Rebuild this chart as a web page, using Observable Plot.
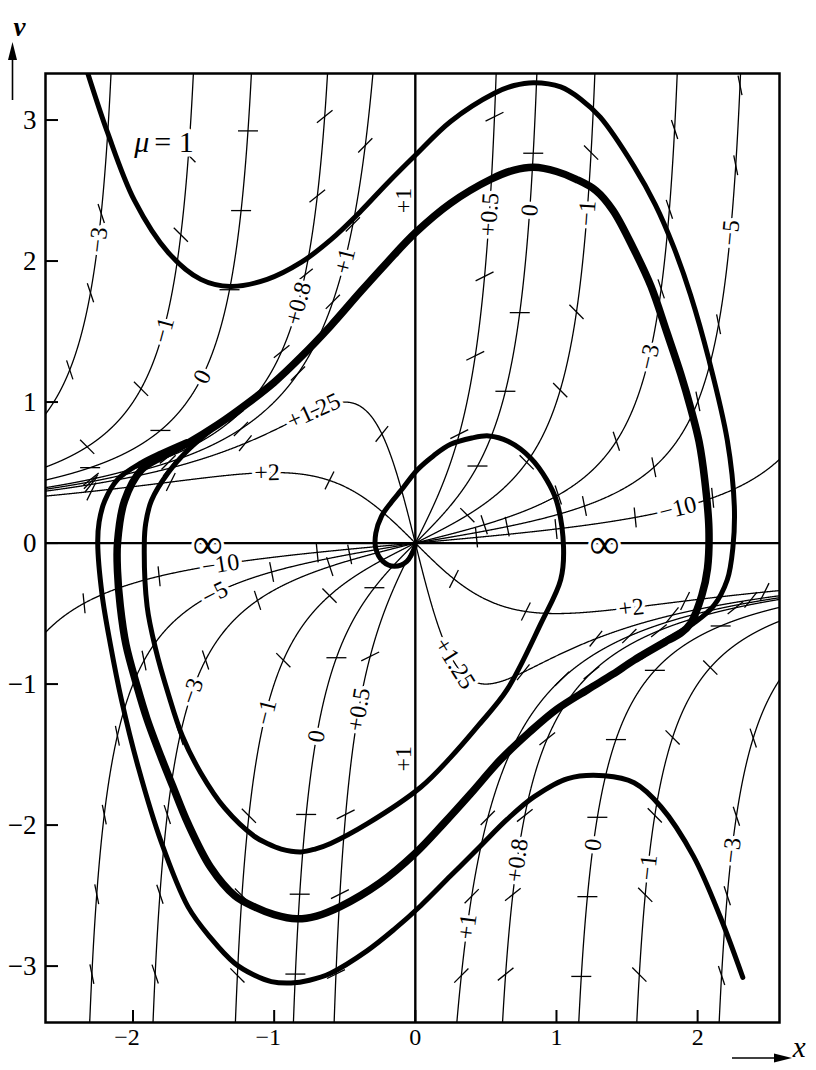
<!DOCTYPE html>
<html>
<head>
<meta charset="utf-8">
<script src="https://cdn.jsdelivr.net/npm/d3@7"></script>
<script src="https://cdn.jsdelivr.net/npm/@observablehq/plot@0.6"></script>
<style>
  html, body { margin: 0; padding: 0; background: #fff; }
  #chart { width: 816px; height: 1070px; }
  #chart svg text { font-family: "Liberation Serif", "Times New Roman", "DejaVu Serif", serif; }
</style>
</head>
<body>
<div id="chart"></div>
<script>
// Phase plane of the van der Pol equation x'' - μ(1 - x²)x' + x = 0, v = x'.
// Thin curves: isoclines dv/dx = s, crossed by short marks of slope s.
// Heavy curves: the limit cycle and three trajectories approaching it.
const mu = 1;

// isocline slopes
const midSlopes   = [-10, -5, -3, -1, 0, 0.5];  // branches through the origin
const outerSlopes = [-3, -1, 0, 0.8, 1];        // branches beyond the asymptotes
const wholeSlopes = [1.25, 2];                  // slopes above μ: a single branch

// isocline labels: [text, slope, where, value]
//   "x": value is x on the curve; "mid"/"outer": value is v on that branch;
//   "axis": beside the axis x = 0 at height v; "inf": on v = 0 at x
const isoLabels = [
  ["−3", -3, "outer", 2.15], ["−1", -1, "outer", 1.51], ["0", 0, "outer", 1.18],
  ["+0.8", 0.8, "outer", 1.70], ["+1", 1, "outer", 2.00], ["+1", 1, "axis", 2.43],
  ["+1.25", 1.25, "x", -0.72], ["+2", 2, "x", -1.05], ["∞", Infinity, "inf", -1.47],
  ["−10", -10, "x", -1.38], ["−5", -5, "x", -1.42], ["−3", -3, "x", -1.58],
  ["−1", -1, "mid", -1.20], ["0", 0, "mid", -1.37], ["+0.5", 0.5, "mid", -1.18],
  ["+1", 1, "axis", -1.53], ["+1.25", 1.25, "x", 0.28], ["+2", 2, "x", 1.53],
  ["∞", Infinity, "inf", 1.34], ["−10", -10, "x", 1.86], ["−3", -3, "mid", 1.32],
  ["−5", -5, "mid", 2.20], ["+0.5", 0.5, "mid", 2.33], ["0", 0, "mid", 2.36],
  ["−1", -1, "mid", 2.34], ["+1", 1, "outer", -2.72], ["+0.8", 0.8, "outer", -2.25],
  ["0", 0, "outer", -2.14], ["−1", -1, "outer", -2.30], ["−3", -3, "outer", -2.18]
];

// limit cycle (closed)
const limitX = [-2.11, -2.06, -1.94, -1.80, -1.61, -1.40, -1.19, -1.00, -0.81, -0.60, -0.39, -0.20, 0.00, 0.25, 0.535, 0.70, 0.84, 1.00, 1.14, 1.28, 1.40, 1.55, 1.67, 1.78, 1.88, 1.95, 2.01, 2.05, 2.08, 2.07, 2.03, 1.95, 1.88, 1.79, 1.55, 1.40, 1.22, 1.00, 0.81, 0.60, 0.39, 0.20, 0.00, -0.25, -0.535, -0.70, -0.84, -1.00, -1.14, -1.28, -1.45, -1.61, -1.72, -1.80, -1.90, -1.97, -2.05, -2.09, -2.11];
const limitV = [0.00, 0.30, 0.52, 0.61, 0.71, 0.84, 0.99, 1.14, 1.32, 1.54, 1.78, 1.99, 2.20, 2.41, 2.58, 2.645, 2.665, 2.635, 2.58, 2.50, 2.36, 2.08, 1.82, 1.50, 1.20, 0.96, 0.72, 0.45, 0.10, -0.18, -0.37, -0.57, -0.64, -0.69, -0.83, -0.93, -1.04, -1.18, -1.34, -1.54, -1.78, -1.99, -2.20, -2.41, -2.58, -2.645, -2.665, -2.635, -2.58, -2.50, -2.30, -1.99, -1.72, -1.52, -1.25, -1.02, -0.72, -0.45, -0.20];

// trajectory spiralling out of the origin
const innerX = [0.00, -0.06, -0.15, -0.23, -0.28, -0.28, -0.24, -0.17, -0.10, 0.015, 0.13, 0.25, 0.40, 0.52, 0.66, 0.82, 0.93, 1.00, 1.05, 1.03, 0.89, 0.65, 0.45, 0.25, 0.04, -0.34, -0.60, -0.71, -0.81, -0.95, -1.05, -1.14, -1.35, -1.52, -1.65, -1.75, -1.84, -1.90, -1.92, -1.91, -1.87, -1.75, -1.61, -1.45];
const innerV = [-0.02, -0.13, -0.165, -0.13, -0.04, 0.07, 0.19, 0.29, 0.375, 0.52, 0.62, 0.70, 0.745, 0.76, 0.72, 0.60, 0.45, 0.30, -0.03, -0.26, -0.57, -1.04, -1.29, -1.52, -1.73, -1.99, -2.13, -2.17, -2.19, -2.17, -2.13, -2.08, -1.88, -1.63, -1.37, -1.07, -0.75, -0.45, 0.00, 0.14, 0.30, 0.50, 0.66, 0.80];

// trajectory entering at the upper left
const upperX = [-2.32, -2.18, -1.99, -1.75, -1.52, -1.31, -1.05, -0.81, -0.60, -0.39, -0.20, 0.00, 0.25, 0.56, 0.70, 0.84, 1.03, 1.17, 1.31, 1.55, 1.70, 1.83, 1.95, 2.08, 2.21, 2.26, 2.25, 2.21, 2.11, 1.97, 1.79, 1.60];
const upperV = [3.33, 2.91, 2.43, 2.06, 1.87, 1.82, 1.87, 1.99, 2.15, 2.35, 2.55, 2.75, 2.99, 3.19, 3.245, 3.265, 3.235, 3.15, 3.02, 2.67, 2.40, 2.10, 1.76, 1.30, 0.73, 0.26, -0.03, -0.26, -0.45, -0.57, -0.68, -0.81];

// trajectory starting at the lower right
const lowerX = [2.32, 2.16, 1.97, 1.74, 1.55, 1.34, 1.08, 0.84, 0.65, 0.46, 0.25, 0.04, -0.15, -0.34, -0.60, -0.75, -0.88, -1.02, -1.15, -1.28, -1.45, -1.61, -1.80, -1.96, -2.08, -2.16, -2.22, -2.25, -2.24, -2.20, -2.11, -1.94, -1.80, -1.62];
const lowerV = [-3.08, -2.65, -2.22, -1.87, -1.70, -1.65, -1.67, -1.80, -1.96, -2.15, -2.36, -2.57, -2.74, -2.89, -3.05, -3.10, -3.12, -3.11, -3.06, -2.98, -2.80, -2.58, -2.12, -1.60, -1.12, -0.72, -0.36, 0.00, 0.15, 0.30, 0.45, 0.57, 0.64, 0.72];

// axis ticks
const xTicks = [-2, -1, 0, 1, 2];
const vTicks = [-3, -2, -1, 0, 1, 2, 3];

// ---------------------------------------------------------------------------
const W = 816, H = 1070;
const margin = {top: 73, right: 37, bottom: 48, left: 45};
const xDomain = [-2.62, 2.58], vDomain = [-3.40, 3.33];
const innerW = W - margin.left - margin.right, innerH = H - margin.top - margin.bottom;
const kx = innerW / (xDomain[1] - xDomain[0]);
const ky = innerH / (vDomain[1] - vDomain[0]);
const px = x => margin.left + (x - xDomain[0]) * kx;
const py = v => margin.top + (vDomain[1] - v) * ky;
const ix = p => xDomain[0] + (p - margin.left) / kx;
const iv = p => vDomain[1] - (p - margin.top) / ky;

// isocline v(x) for slope s, and x on a branch for a given v
const iso = (s, x) => x / (mu * (1 - x * x) - s);
const xOnIso = (s, v, kind) => {
  const r = Math.sqrt(1 + 4 * mu * v * v * (mu - s));
  return (kind === "mid" ? -1 + r : -1 - r) / (2 * mu * v);
};

function branch(s, lo, hi, kind) {
  const pts = [];
  const n = 1400;
  for (let i = 0; i <= n; i++) {
    const x = lo + (hi - lo) * i / n;
    const v = iso(s, x);
    if (isFinite(v) && Math.abs(v) <= 5) pts.push([x, v]);
  }
  for (let k = -250; k <= 250; k++) {
    const v = k * 0.02;
    if (Math.abs(v) < 0.3) continue;
    const x = xOnIso(s, v, kind);
    if (x > lo && x < hi) pts.push([x, v]);
  }
  return pts.sort((a, b) => a[0] - b[0]);
}

const X0 = -2.75, X1 = 2.75;
const branches = [];
for (const s of midSlopes) {
  const a = Math.sqrt((mu - s) / mu);
  branches.push({id: `m${s}`, s, pts: branch(s, Math.max(-a, X0), Math.min(a, X1), "mid")});
}
for (const s of outerSlopes) {
  const a = Math.sqrt((mu - s) / mu);
  branches.push({id: `l${s}`, s, pts: branch(s, X0, -a, "outer")});
  branches.push({id: `r${s}`, s, pts: branch(s, a, X1, "outer")});
}
for (const s of wholeSlopes) {
  branches.push({id: `w${s}`, s, pts: branch(s, X0, X1, "mid")});
}
const isoRows = branches.flatMap(b => b.pts.map(([x, v]) => ({x, v, id: b.id})));

// label placement and rotation along the curve
const labels = isoLabels.map(([text, s, where, val]) => {
  let x, v, angle, dx = 0;
  if (where === "inf") { x = val; v = 0; angle = 0; }
  else if (where === "axis") { x = 0; v = val; angle = -90; dx = -12; }
  else {
    if (where === "x") { x = val; v = iso(s, x); }
    else { v = val; x = xOnIso(s, v, where); }
    const h = 1e-4;
    const d = (iso(s, x + h) - iso(s, x - h)) / (2 * h);
    angle = Math.atan2(-d * ky, kx) * 180 / Math.PI;
  }
  return {text, x, v, angle, dx, where};
});
const labelPix = labels.map(d => [px(d.x) + d.dx, py(d.v)]);

// short marks of slope s spaced along a curve
const originPix = [px(0), py(0)];
function slopeMarks(pts, s, step = 80, start = 40) {
  const out = [];
  let acc = 0, next = start, prev = null;
  for (const [x, v] of pts) {
    const p = [px(x), py(v)];
    const inside = p[0] >= margin.left + 6 && p[0] <= W - margin.right - 6 &&
                   p[1] >= margin.top + 6 && p[1] <= H - margin.bottom - 6;
    if (!inside) { prev = null; continue; }
    if (prev) {
      const seg = Math.hypot(p[0] - prev[0], p[1] - prev[1]);
      while (seg > 0 && acc + seg >= next) {
        const t = (next - acc) / seg;
        out.push([prev[0] + t * (p[0] - prev[0]), prev[1] + t * (p[1] - prev[1])]);
        next += step;
      }
      acc += seg;
    }
    prev = p;
  }
  const half = 10;
  let dxd, dvd;
  if (!isFinite(s)) { dxd = 0; dvd = half / ky; }
  else { const len = Math.hypot(kx, s * ky); dxd = half / len; dvd = s * half / len; }
  return out
    .filter(q => Math.hypot(q[0] - originPix[0], q[1] - originPix[1]) > 50)
    .filter(q => labelPix.every(l => Math.hypot(q[0] - l[0], q[1] - l[1]) > 26))
    .map(q => {
      const x = ix(q[0]), v = iv(q[1]);
      return {x1: x - dxd, y1: v - dvd, x2: x + dxd, y2: v + dvd};
    });
}
const marks = [
  ...branches.flatMap(b => slopeMarks(b.pts, b.s)),
  ...slopeMarks([[-2.7, 0], [2.7, 0]], Infinity, 80, 30),
  ...slopeMarks([[0, -3.5], [0, 3.5]], 1, 80, 50)
];

const rows = (xs, vs) => xs.map((x, i) => ({x, v: vs[i]}));
const fmt = d => (d < 0 ? "−" + Math.abs(d) : String(d));
const serif = "Liberation Serif, Times New Roman, DejaVu Serif, serif";
const halo = {fill: "black", stroke: "white", paintOrder: "stroke", strokeLinejoin: "round", fontFamily: serif};

const chart = Plot.plot({
  width: W,
  height: H,
  marginTop: margin.top,
  marginRight: margin.right,
  marginBottom: margin.bottom,
  marginLeft: margin.left,
  x: {domain: xDomain, axis: null},
  y: {domain: vDomain, axis: null},
  style: {fontFamily: serif, background: "white", color: "black"},
  marks: [
    Plot.line(isoRows, {x: "x", y: "v", z: "id", stroke: "black", strokeWidth: 1.3, clip: true}),
    Plot.ruleY([0], {stroke: "black", strokeWidth: 2.3}),
    Plot.ruleX([0], {stroke: "black", strokeWidth: 2.4}),
    Plot.link(marks, {x1: "x1", y1: "y1", x2: "x2", y2: "y2", stroke: "black", strokeWidth: 1.3, clip: true}),
    Plot.text(labels.filter(d => d.where !== "axis" && d.where !== "inf"), {
      x: "x", y: "v", text: "text", rotate: "angle", fontSize: 24, strokeWidth: 7, ...halo
    }),
    Plot.text(labels.filter(d => d.where === "axis"), {
      x: "x", y: "v", text: "text", rotate: "angle", dx: -12, fontSize: 24, strokeWidth: 5, ...halo
    }),
    Plot.text(labels.filter(d => d.where === "inf"), {
      x: "x", y: "v", text: "text", dy: 1, fontSize: 42, strokeWidth: 6, ...halo
    }),
    Plot.text(["μ"], {x: -1.87, y: 2.84, dx: -2, textAnchor: "end", fontSize: 30, fontStyle: "italic", strokeWidth: 9, ...halo}),
    Plot.text(["= 1"], {x: -1.87, y: 2.84, dx: 3, textAnchor: "start", fontSize: 30, strokeWidth: 9, ...halo}),
    Plot.line(rows(limitX, limitV), {x: "x", y: "v", curve: "catmull-rom-closed", stroke: "black", strokeWidth: 7.5, clip: true}),
    Plot.line(rows(innerX, innerV), {x: "x", y: "v", curve: "catmull-rom", stroke: "black", strokeWidth: 5, clip: true}),
    Plot.line(rows(upperX, upperV), {x: "x", y: "v", curve: "catmull-rom", stroke: "black", strokeWidth: 5, clip: true}),
    Plot.line(rows(lowerX, lowerV), {x: "x", y: "v", curve: "catmull-rom", stroke: "black", strokeWidth: 5, clip: true}),
    Plot.tickX(xTicks, {x: d => d, insetTop: innerH - 12, stroke: "black", strokeWidth: 2}),
    Plot.tickY(vTicks, {y: d => d, insetRight: innerW - 13, stroke: "black", strokeWidth: 2}),
    Plot.frame({stroke: "black", strokeWidth: 2.5}),
    Plot.text(xTicks.filter(d => d < 0), {x: d => d, text: fmt, frameAnchor: "bottom", dy: 22, dx: -6, fontSize: 24, fill: "black", fontFamily: serif}),
    Plot.text(xTicks.filter(d => d >= 0), {x: d => d, text: fmt, frameAnchor: "bottom", dy: 22, fontSize: 24, fill: "black", fontFamily: serif}),
    Plot.text(vTicks, {y: d => d, text: fmt, frameAnchor: "left", dx: -9, textAnchor: "end", fontSize: 27, fill: "black", fontFamily: serif}),
    Plot.text(["v"], {frameAnchor: "top-left", dx: -32, dy: -57, fontSize: 27, fontStyle: "italic", fontWeight: "bold", fill: "black", fontFamily: serif}),
    Plot.text(["x"], {frameAnchor: "bottom-right", dx: 26, dy: 34, fontSize: 29, fontStyle: "italic", fill: "black", fontFamily: serif})
  ]
});

// axis arrows beside the v and x labels
const svg = d3.select(chart);
const g = svg.append("g").attr("fill", "black").attr("stroke", "black");
g.append("line").attr("x1", 12.5).attr("y1", 100).attr("x2", 12.5).attr("y2", 56).attr("stroke-width", 1.6);
g.append("path").attr("d", "M12.5,42 L8,60 L17,60 Z").attr("stroke", "none");
g.append("line").attr("x1", 732).attr("y1", 1058).attr("x2", 776).attr("y2", 1058).attr("stroke-width", 1.6);
g.append("path").attr("d", "M792,1058 L774,1053.5 L774,1062.5 Z").attr("stroke", "none");

document.getElementById("chart").appendChild(chart);
</script>
</body>
</html>
